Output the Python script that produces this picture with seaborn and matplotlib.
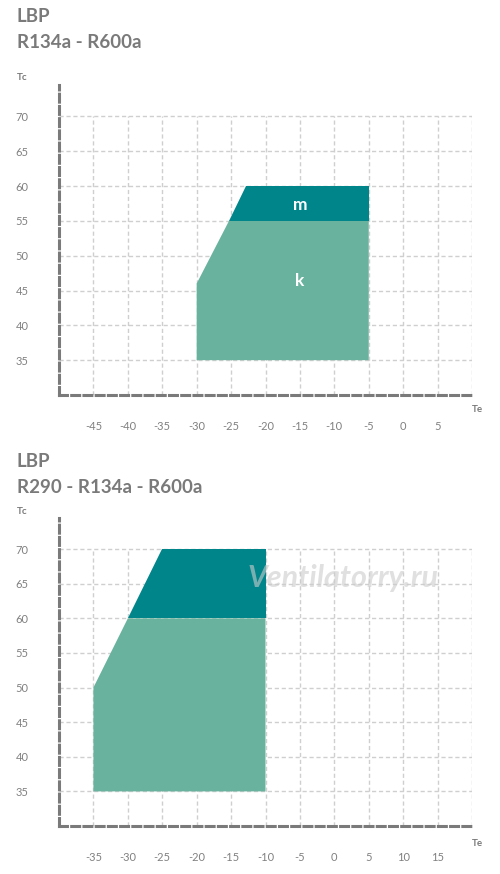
import numpy as np
import matplotlib
matplotlib.use("Agg")
import matplotlib.pyplot as plt
import seaborn as sns

# envelope polygons (Te, Tc)
top_k_te = [-30, -5, -5, -25.3, -30]
top_k_tc = [35, 35, 55, 55, 46]
top_m_te = [-25.3, -5, -5, -22.8]
top_m_tc = [55, 55, 60, 60]

bot_k_te = [-35, -10, -10, -30, -35]
bot_k_tc = [35, 35, 60, 60, 50]
bot_m_te = [-30, -10, -10, -25]
bot_m_tc = [60, 60, 70, 70]

top_xticks = [-45, -40, -35, -30, -25, -20, -15, -10, -5, 0, 5]
bot_xticks = [-35, -30, -25, -20, -15, -10, -5, 0, 5, 10, 15]
yticks = [35, 40, 45, 50, 55, 60, 65, 70]

top_titles = ["LBP", "R134a - R600a"]
bot_titles = ["LBP", "R290 - R134a - R600a"]

DARK = "#00858b"
LIGHT = "#69b39e"
GREY = "#7a7a7a"

sns.set_style("white")
plt.rcParams["font.family"] = ["Lato", "DejaVu Sans"]

fig = plt.figure(figsize=(5, 8.74), dpi=100)
W, H = 500, 874


def px_axes(left, right, top, bottom):
    return fig.add_axes([left / W, 1 - bottom / H, (right - left) / W, (bottom - top) / H])


def setup(ax, xmin, xmax, xticks):
    ax.set_xlim(xmin, xmax)
    ax.set_ylim(30, 74.5)
    gx = xticks + [xmax] if xticks[-1] < xmax else xticks
    ax.vlines(gx, 30, 70, colors="#cfcfcf", linestyles=(0, (3, 2)), linewidth=1, zorder=1)
    ax.hlines(yticks, xmin, xmax, colors="#cfcfcf", linestyles=(0, (3, 2)), linewidth=1, zorder=1)
    sns.despine(ax=ax, top=True, right=True)
    for s in ["left", "bottom"]:
        ax.spines[s].set_color(GREY)
        ax.spines[s].set_linewidth(2.2)
        ax.spines[s].set_linestyle((0, (2.6, 1.4)))
        ax.spines[s].set_zorder(5)
    ax.set_xticks(xticks)
    ax.set_xticklabels([str(t) for t in xticks])
    ax.set_yticks(yticks)
    ax.set_yticklabels([str(t) for t in yticks])
    ax.tick_params(axis="x", direction="out", length=15, width=1, color="#a0a0a0",
                   labelsize=8, labelcolor="#808080", pad=4)
    ax.tick_params(axis="y", direction="out", length=15, width=1, color="#a0a0a0",
                   labelsize=8, labelcolor="#808080", pad=7)
    ax.set_facecolor("none")


# ---- top chart
ax1 = px_axes(59, 472, 85, 395)
setup(ax1, -50, 10, top_xticks)
ax1.fill(top_k_te, top_k_tc, color=LIGHT, lw=0, zorder=2)
ax1.fill(top_m_te, top_m_tc, color=DARK, lw=0, zorder=2)
ax1.text(-15, 57.3, "m", color="white", fontsize=12.5, fontweight="bold", ha="center", va="center", zorder=3)
ax1.text(-15, 46.4, "k", color="white", fontsize=12.5, fontweight="bold", ha="center", va="center", zorder=3)

# ---- bottom chart
ax2 = px_axes(59, 472, 518, 826)
setup(ax2, -40, 20, bot_xticks)
ax2.fill(bot_k_te, bot_k_tc, color=LIGHT, lw=0, zorder=2)
ax2.fill(bot_m_te, bot_m_tc, color=DARK, lw=0, zorder=2)

# titles and axis names
fig.text(17 / W, 1 - 16 / H, top_titles[0], fontsize=13.5, fontweight="bold", color=GREY, va="center")
fig.text(17 / W, 1 - 43 / H, top_titles[1], fontsize=13.5, fontweight="bold", color=GREY, va="center")
fig.text(17 / W, 1 - 462 / H, bot_titles[0], fontsize=13.5, fontweight="bold", color=GREY, va="center")
fig.text(17 / W, 1 - 487 / H, bot_titles[1], fontsize=13.5, fontweight="bold", color=GREY, va="center")

fig.text(17 / W, 1 - 77 / H, "Tc", fontsize=7, fontweight="bold", color=GREY, va="center")
fig.text(17 / W, 1 - 511 / H, "Tc", fontsize=7, fontweight="bold", color=GREY, va="center")
fig.text(472 / W, 1 - 409 / H, "Te", fontsize=7, fontweight="bold", color=GREY, va="center")
fig.text(472 / W, 1 - 843 / H, "Te", fontsize=7, fontweight="bold", color=GREY, va="center")

# watermark
fig.text(343 / W, 1 - 578 / H, "Ventilatorry.ru", fontsize=22, style="italic", fontweight="bold",
         color="#cccccc", alpha=0.6, ha="center", va="center", zorder=10)

fig.savefig("out.png", dpi=100)
